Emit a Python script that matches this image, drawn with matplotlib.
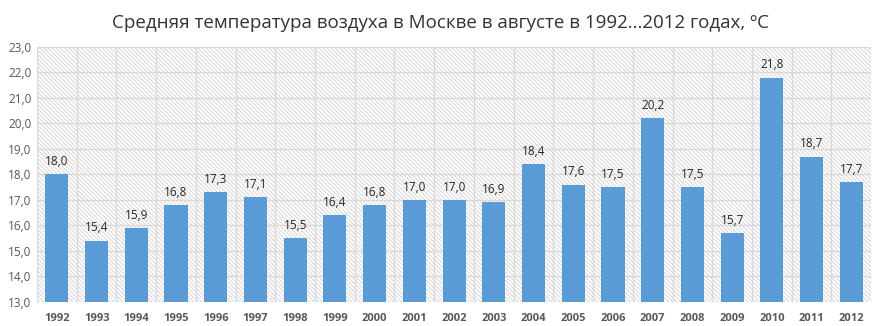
import matplotlib.pyplot as plt
from matplotlib.patches import Rectangle
from matplotlib.ticker import FuncFormatter

years = [str(y) for y in range(1992, 2013)]
temps = [18.0, 15.4, 15.9, 16.8, 17.3, 17.1, 15.5, 16.4, 16.8, 17.0, 17.0,
         16.9, 18.4, 17.6, 17.5, 20.2, 17.5, 15.7, 21.8, 18.7, 17.7]
title = 'Средняя температура воздуха в Москве в августе в 1992...2012 годах, ºС'

plt.rcParams['font.family'] = ['Open Sans', 'DejaVu Sans']
plt.rcParams['hatch.linewidth'] = 0.6
plt.rcParams['hatch.color'] = '#d0d0d0'

fig = plt.figure(figsize=(8.8, 3.26), dpi=100)
ax = fig.add_axes([0.042, 0.074, 0.948, 0.782])

x = range(len(years))
ax.set_xlim(-0.5, len(years) - 0.5)
ax.set_ylim(13, 23)

# diagonal hatching behind everything
ax.add_patch(Rectangle((0, 0), 1, 1, transform=ax.transAxes, facecolor='white',
                       edgecolor='#d0d0d0', hatch='\\' * 8, linewidth=0, zorder=0))

ax.bar(x, temps, width=0.58, color='#5b9bd5', zorder=3)
for i, t in zip(x, temps):
    ax.text(i, t + 0.25, f'{t:.1f}'.replace('.', ','), ha='center', va='bottom',
            fontsize=8.5, color='#262626', zorder=4)

# grid: horizontal at every degree, vertical between categories
for yv in range(13, 24):
    ax.axhline(yv, color='#d9d9d9', linewidth=1, zorder=1)
for b in range(len(years) + 1):
    ax.axvline(b - 0.5, color='#d9d9d9', linewidth=1, zorder=1)

ax.set_xticks(list(x))
ax.set_xticklabels(years, fontsize=8, fontweight='bold', color='#595959')
ax.set_yticks(range(13, 24))
ax.yaxis.set_major_formatter(FuncFormatter(lambda v, p: f'{v:.1f}'.replace('.', ',')))
ax.tick_params(axis='y', labelsize=8.5, labelcolor='#595959', length=0, pad=4)
ax.tick_params(axis='x', length=0, pad=8)
for s in ax.spines.values():
    s.set_visible(False)

fig.text(0.5, 0.93, title, ha='center', va='center', fontsize=13.5, color='#333333')

fig.savefig('out.png', dpi=100)
